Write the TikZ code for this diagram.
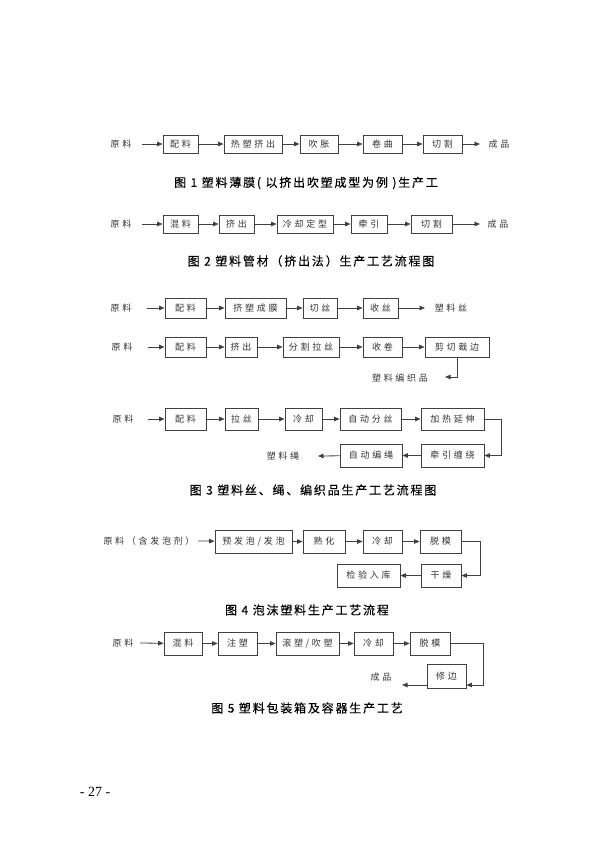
\documentclass[tikz,border=0pt]{standalone}
\usepackage{fontspec}
\setmainfont{Liberation Serif}
\newfontfamily\lblf[LetterSpace=30]{Noto Sans CJK SC}
\newfontfamily\capf[LetterSpace=15,FakeBold=0.3]{Noto Sans CJK SC}
\usetikzlibrary{arrows.meta}
\definecolor{ink}{HTML}{333333}
\definecolor{lineink}{HTML}{404040}
\tikzset{
  pbox/.style={draw=lineink, line width=0.8pt, inner sep=0pt, text=ink, font=\lblf\fontsize{9}{10}\selectfont},
  plbl/.style={inner sep=0pt, text=ink, font=\lblf\fontsize{9}{10}\selectfont},
  pcap/.style={inner sep=0pt, text=black, font=\capf\fontsize{12}{14}\selectfont},
  arr/.style={draw=lineink, line width=0.8pt, -{Triangle[length=5.5pt,width=4.5pt]}},
}
\newcommand\bx[6]{\node[pbox,minimum width={#3pt-#2pt},minimum height={#5pt-#4pt}] (#1) at ({(#2+#3)/2},{(#4+#5)/2}) {#6};}
\begin{document}
\begin{tikzpicture}[x=1pt,y=-1pt]
\fill[white] (0,0) rectangle (600,848);
\useasboundingbox (0,0) rectangle (600,848);

% ---------- Figure 1 ----------
\node[plbl] (a0) at (121,144) {原料};
\coordinate (a0s) at (142,144);
\bx{a1}{163}{198}{135}{153}{配料}
\bx{a2}{224}{282}{135}{153}{热塑挤出}
\bx{a3}{300}{338}{135}{153}{吹胀}
\bx{a4}{363}{402}{135}{153}{卷曲}
\bx{a5}{423}{462}{135}{153}{切割}
\coordinate (a6e) at (480,144);
\node[plbl] (a6) at (499,144) {成品};
\draw[arr] (a0s) -- (a1);
\draw[arr] (a1) -- (a2);
\draw[arr] (a2) -- (a3);
\draw[arr] (a3) -- (a4);
\draw[arr] (a4) -- (a5);
\draw[arr] (a5) -- (a6e);
\node[pcap] (cap1) at (306,183) {图 1 塑料薄膜( 以挤出吹塑成型为例 )生产工};

% ---------- Figure 2 ----------
\node[plbl] (b0) at (121,224) {原料};
\coordinate (b0s) at (142,224);
\bx{b1}{163}{198}{215}{233}{混料}
\bx{b2}{219}{254}{215}{233}{挤出}
\bx{b3}{277}{333}{215}{233}{冷却定型}
\bx{b4}{351}{387}{215}{233}{牵引}
\bx{b5}{411}{452}{215}{233}{切割}
\coordinate (b6e) at (480,224);
\node[plbl] (b6) at (498,224) {成品};
\draw[arr] (b0s) -- (b1);
\draw[arr] (b1) -- (b2);
\draw[arr] (b2) -- (b3);
\draw[arr] (b3) -- (b4);
\draw[arr] (b4) -- (b5);
\draw[arr] (b5) -- (b6e);
\node[pcap] (cap2) at (311,261) {图 2 塑料管材（挤出法）生产工艺流程图};

% ---------- Figure 3 ----------
% row A
\node[plbl] (c0) at (121,308) {原料};
\coordinate (c0s) at (147,308);
\bx{c1}{165}{206}{298}{318}{配料}
\bx{c2}{225}{286}{298}{318}{挤塑成膜}
\bx{c3}{303}{337}{298}{318}{切丝}
\bx{c4}{363}{398}{298}{318}{收丝}
\coordinate (c5e) at (425,308);
\node[plbl] (c5) at (451,308) {塑料丝};
\draw[arr] (c0s) -- (c1);
\draw[arr] (c1) -- (c2);
\draw[arr] (c2) -- (c3);
\draw[arr] (c3) -- (c4);
\draw[arr] (c4) -- (c5e);
% row B
\node[plbl] (d0) at (122,347) {原料};
\coordinate (d0s) at (148,347);
\bx{d1}{165}{206}{337}{357}{配料}
\bx{d2}{225}{257}{337}{357}{挤出}
\bx{d3}{283}{339}{337}{357}{分割拉丝}
\bx{d4}{363}{402}{337}{357}{收卷}
\bx{d5}{425}{489}{337}{357}{剪切裁边}
\coordinate (d6e) at (445,377);
\node[plbl] (d6) at (400,378) {塑料编织品};
\draw[arr] (d0s) -- (d1);
\draw[arr] (d1) -- (d2);
\draw[arr] (d2) -- (d3);
\draw[arr] (d3) -- (d4);
\draw[arr] (d4) -- (d5);
\draw[arr] (d5.south -| 457,0) |- (d6e);
% row C
\node[plbl] (e0) at (123,419) {原料};
\coordinate (e0s) at (148,419);
\bx{e1}{165}{206}{408}{430}{配料}
\bx{e2}{225}{258}{408}{430}{拉丝}
\bx{e3}{285}{322}{408}{430}{冷却}
\bx{e4}{340}{401}{408}{430}{自动分丝}
\bx{e5}{421}{484}{408}{430}{加热延伸}
% row D
\bx{f1}{421}{484}{444}{467}{牵引缠绕}
\bx{f2}{340}{402}{444}{467}{自动编绳}
\coordinate (f3e) at (318,456);
\node[plbl] (f3) at (283,456) {塑料绳};
\draw[arr] (e0s) -- (e1);
\draw[arr] (e1) -- (e2);
\draw[arr] (e2) -- (e3);
\draw[arr] (e3) -- (e4);
\draw[arr] (e4) -- (e5);
\draw[arr] (e5.east) -- ++(17,0) |- (f1.east);
\draw[arr] (f1) -- (f2);
\draw[arr] (f2) -- (f3e);
\node[pcap] (cap3) at (313,490) {图 3 塑料丝、绳、编织品生产工艺流程图};

% ---------- Figure 4 ----------
\node[plbl] (g0) at (149,541) {原料（含发泡剂）};
\coordinate (g0s) at (198,541);
\bx{g1}{215}{292}{530}{553}{预发泡/发泡}
\bx{g2}{303}{345}{530}{553}{熟化}
\bx{g3}{363}{402}{530}{553}{冷却}
\bx{g4}{420}{461}{530}{553}{脱模}
\bx{h1}{421}{461}{564}{587}{干燥}
\bx{h2}{337}{400}{564}{587}{检验入库}
\draw[arr] (g0s) -- (g1);
\draw[arr] (g1) -- (g2);
\draw[arr] (g2) -- (g3);
\draw[arr] (g3) -- (g4);
\draw[arr] (g4.east) -- ++(19,0) |- (h1.east);
\draw[arr] (h1) -- (h2);
\node[pcap] (cap4) at (307,610) {图 4 泡沫塑料生产工艺流程};

% ---------- Figure 5 ----------
\node[plbl] (k0) at (123,643) {原料};
\coordinate (k0s) at (140,643);
\bx{k1}{164}{202}{632}{655}{混料}
\bx{k2}{218}{257}{632}{655}{注塑}
\bx{k3}{276}{339}{632}{655}{滚塑/吹塑}
\bx{k4}{354}{393}{632}{655}{冷却}
\bx{k5}{410}{450}{632}{655}{脱模}
\bx{m1}{427}{466}{664}{688}{修边}
\coordinate (m2e) at (402,685);
\node[plbl] (m2) at (381,677) {成品};
\draw[arr] (k0s) -- (k1);
\draw[arr] (k1) -- (k2);
\draw[arr] (k2) -- (k3);
\draw[arr] (k3) -- (k4);
\draw[arr] (k4) -- (k5);
\draw[arr] (k5.east) -- ++(33,0) |- ([yshift=-9pt]m1.east);
\draw[arr] ([yshift=-9pt]m1.west) -- (m2e);
\node[pcap] (cap5) at (307,708) {图 5 塑料包装箱及容器生产工艺};

% page number
\node[inner sep=0pt, font=\fontsize{14}{16}\selectfont] (pg) at (95,792) {- 27 -};
\end{tikzpicture}
\end{document}
